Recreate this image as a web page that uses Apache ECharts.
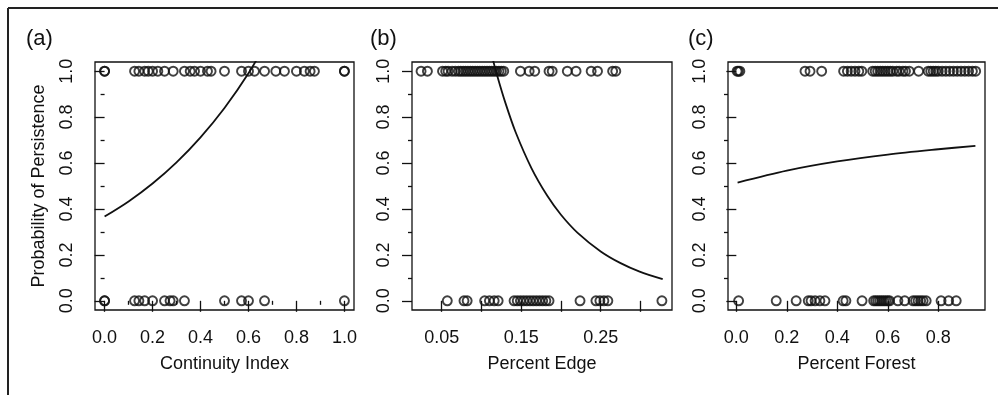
<!DOCTYPE html>
<html>
<head>
<meta charset="utf-8">
<script src="https://cdn.jsdelivr.net/npm/echarts@6/dist/echarts.min.js"></script>
<style>
  html, body { margin: 0; padding: 0; background: #fff; }
  #chart { width: 998px; height: 395px; }
</style>
</head>
<body>
<div id="chart"></div>
<script>
// observed sites: persisted (1) or not (0)
const continuityPersist = [0, 0, 0.125, 0.143, 0.167, 0.182, 0.2, 0.222, 0.25, 0.286, 0.333, 0.357, 0.375, 0.4, 0.429, 0.444,
  0.5, 0.571, 0.6, 0.625, 0.667, 0.714, 0.75, 0.8, 0.833, 0.857, 0.875, 1.0, 1.0];
const continuityLost = [0, 0, 0.125, 0.143, 0.167, 0.2, 0.25, 0.273, 0.286, 0.333, 0.5, 0.571, 0.6, 0.667, 1.0];

const edgePersist = [0.024, 0.032, 0.051, 0.055, 0.058, 0.063, 0.067, 0.071, 0.074, 0.077, 0.08, 0.083, 0.086, 0.089,
  0.092, 0.095, 0.098, 0.101, 0.104, 0.107, 0.11, 0.113, 0.116, 0.119, 0.122, 0.125, 0.128,
  0.149, 0.16, 0.167, 0.185, 0.189, 0.208, 0.219, 0.238, 0.246, 0.265, 0.269];
const edgeLost = [0.057, 0.078, 0.082, 0.104, 0.11, 0.116, 0.121, 0.141, 0.145, 0.149, 0.153, 0.157, 0.161, 0.165,
  0.169, 0.173, 0.177, 0.181, 0.185, 0.224, 0.244, 0.249, 0.254, 0.259, 0.327];

const forestPersist = [0.003, 0.008, 0.014, 0.272, 0.292, 0.338, 0.425, 0.44, 0.455, 0.47, 0.485, 0.497,
  0.54, 0.55, 0.56, 0.57, 0.58, 0.59, 0.6, 0.61, 0.62, 0.635, 0.645, 0.66, 0.67, 0.685, 0.722,
  0.76, 0.77, 0.78, 0.79, 0.8, 0.815, 0.83, 0.845, 0.86, 0.875, 0.89, 0.905, 0.92, 0.935, 0.948];
const forestLost = [0.009, 0.158, 0.237, 0.285, 0.296, 0.312, 0.331, 0.351, 0.423, 0.434, 0.498,
  0.544, 0.552, 0.56, 0.568, 0.576, 0.584, 0.592, 0.6, 0.607, 0.64, 0.667,
  0.7, 0.71, 0.72, 0.73, 0.74, 0.752, 0.811, 0.841, 0.871];

// fitted curves
const continuityFitX = [0, 0.1, 0.2, 0.3, 0.4, 0.5, 0.6, 0.7];
const continuityFitY = [0.367, 0.433, 0.511, 0.603, 0.712, 0.84, 0.991, 1.17];
const edgeFitX = [0.113, 0.12, 0.13, 0.143, 0.163, 0.183, 0.2, 0.221, 0.25, 0.275, 0.299, 0.328];
const edgeFitY = [1.068, 0.978, 0.863, 0.734, 0.577, 0.456, 0.375, 0.296, 0.215, 0.164, 0.127, 0.094];
const forestFitX = [0.005, 0.2, 0.4, 0.6, 0.8, 0.947];
const forestFitY = [0.515, 0.567, 0.607, 0.637, 0.66, 0.675];

// axis ticks
const probTicks = [0, 0.2, 0.4, 0.6, 0.8, 1.0];
const probMinorTicks = [0.1, 0.3, 0.5, 0.7, 0.9];
const continuityTicks = [0, 0.2, 0.4, 0.6, 0.8, 1.0];
const continuityMinorTicks = [0.1, 0.3, 0.5, 0.7, 0.9];
const edgeTicks = [0.05, 0.10, 0.15, 0.20, 0.25, 0.30];
const edgeLabels = [0.05, 0.15, 0.25];
const forestTicks = [0, 0.2, 0.4, 0.6, 0.8];

const panelTags = ["(a)", "(b)", "(c)"];
const xTitles = ["Continuity Index", "Percent Edge", "Percent Forest"];
const yTitle = "Probability of Persistence";

const FONT = "Liberation Sans, Arial, Helvetica, sans-serif";
const INK = "#111";

const panels = [
  { left: 95, width: 259, xMin: -0.04, xMax: 1.04, ticks: continuityTicks, labels: continuityTicks,
    minor: continuityMinorTicks, digits: 1, persist: continuityPersist, lost: continuityLost,
    fitX: continuityFitX, fitY: continuityFitY },
  { left: 412, width: 260, xMin: 0.0126, xMax: 0.3397, ticks: edgeTicks, labels: edgeLabels,
    minor: null, digits: 2, persist: edgePersist, lost: edgeLost,
    fitX: edgeFitX, fitY: edgeFitY },
  { left: 728, width: 257, xMin: -0.033, xMax: 0.985, ticks: forestTicks, labels: forestTicks,
    minor: null, digits: 1, persist: forestPersist, lost: forestLost,
    fitX: forestFitX, fitY: forestFitY },
];

const chart = echarts.init(document.getElementById("chart"));

const grid = [];
const xAxis = [];
const yAxis = [];
const series = [];

panels.forEach((p, i) => {
  grid.push({
    left: p.left, top: 62, width: p.width, height: 248,
    show: true, borderColor: INK, borderWidth: 1.3, backgroundColor: "transparent",
  });

  xAxis.push({
    gridIndex: i, type: "value", min: p.xMin, max: p.xMax, position: "bottom",
    axisLine: { show: false }, splitLine: { show: false },
    axisTick: { show: true, length: 11, customValues: p.ticks, lineStyle: { color: INK, width: 1.3 } },
    axisLabel: {
      customValues: p.labels, margin: 19, fontSize: 18, color: INK, fontFamily: FONT,
      formatter: (v) => v.toFixed(p.digits),
    },
    name: xTitles[i], nameLocation: "middle", nameGap: 45,
    nameTextStyle: { fontSize: 18, color: INK, fontFamily: FONT },
  });
  yAxis.push({
    gridIndex: i, type: "value", min: -0.04, max: 1.04, position: "left",
    axisLine: { show: false }, splitLine: { show: false },
    axisTick: { show: true, length: 10, customValues: probTicks, lineStyle: { color: INK, width: 1.3 } },
    axisLabel: {
      customValues: probTicks, margin: 19, rotate: 90, fontSize: 18, color: INK, fontFamily: FONT,
      formatter: (v) => v.toFixed(1),
    },
    name: i === 0 ? yTitle : "", nameLocation: "middle", nameGap: 47,
    nameTextStyle: { fontSize: 18, color: INK, fontFamily: FONT },
  });

  series.push({
    type: "scatter", xAxisIndex: xAxis.length - 1, yAxisIndex: yAxis.length - 1,
    symbol: "circle", symbolSize: 9,
    itemStyle: { color: "rgba(0,0,0,0)", borderColor: INK, borderWidth: 1.9 },
    data: p.persist.map((x) => [x, 1]).concat(p.lost.map((x) => [x, 0])),
    silent: true, animation: false,
  });
  series.push({
    type: "line", xAxisIndex: xAxis.length - 1, yAxisIndex: yAxis.length - 1,
    data: p.fitX.map((x, k) => [x, p.fitY[k]]),
    smooth: 0.3, showSymbol: false, clip: true,
    lineStyle: { color: INK, width: 1.8 },
    silent: true, animation: false,
  });

  // short ticks
  if (p.minor) {
    xAxis.push({
      gridIndex: i, type: "value", min: p.xMin, max: p.xMax, position: "bottom", offset: 0,
      axisLine: { show: false }, splitLine: { show: false }, axisLabel: { show: false },
      axisTick: { show: true, length: 4, customValues: p.minor, lineStyle: { color: INK, width: 1.3 } },
    });
  }
  yAxis.push({
    gridIndex: i, type: "value", min: -0.04, max: 1.04, position: "left", offset: 0,
    axisLine: { show: false }, splitLine: { show: false }, axisLabel: { show: false },
    axisTick: { show: true, length: 4, customValues: probMinorTicks, lineStyle: { color: INK, width: 1.3 } },
  });
});

const tagX = [26, 370, 688];

chart.setOption({
  backgroundColor: "#fff",
  animation: false,
  grid: grid,
  xAxis: xAxis,
  yAxis: yAxis,
  series: series,
  graphic: [
    { type: "line", shape: { x1: 8, y1: 8, x2: 998, y2: 8 }, style: { stroke: "#222", lineWidth: 2 } },
    { type: "line", shape: { x1: 8, y1: 8, x2: 8, y2: 395 }, style: { stroke: "#222", lineWidth: 2 } },
  ].concat(panelTags.map((t, i) => ({
    type: "text", left: tagX[i], top: 28,
    style: { text: t, fontSize: 22, fill: INK, fontFamily: FONT },
  }))),
});
</script>
</body>
</html>
